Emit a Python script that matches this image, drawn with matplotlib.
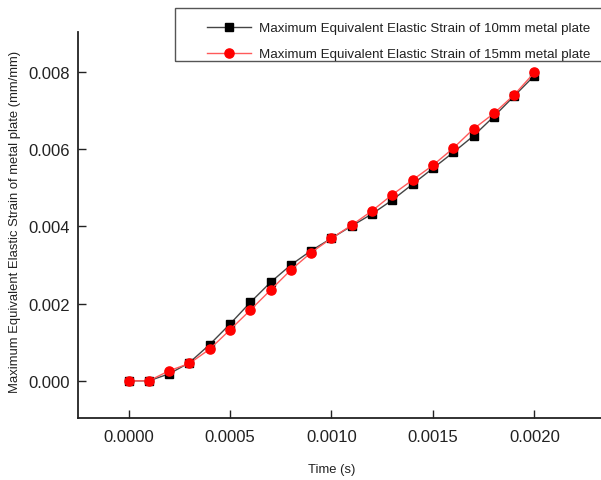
import matplotlib
matplotlib.use("Agg")
import matplotlib.pyplot as plt
from matplotlib.patches import Rectangle
from matplotlib.ticker import FormatStrFormatter

plt.rcParams['font.family'] = ['Liberation Sans', 'DejaVu Sans']

time_s = [0.0000, 0.0001, 0.0002, 0.0003, 0.0004, 0.0005, 0.0006, 0.0007,
          0.0008, 0.0009, 0.0010, 0.0011, 0.0012, 0.0013, 0.0014, 0.0015,
          0.0016, 0.0017, 0.0018, 0.0019, 0.0020]
strain_10mm = [0.0, 0.0, 0.00018, 0.00047, 0.00094, 0.00147, 0.00203, 0.00255,
               0.00300, 0.00337, 0.00369, 0.00401, 0.00432, 0.00468, 0.00509,
               0.00550, 0.00591, 0.00634, 0.00684, 0.00737, 0.00790]
strain_15mm = [0.0, 0.0, 0.00026, 0.00045, 0.00082, 0.00132, 0.00183, 0.00235,
               0.00287, 0.00332, 0.00369, 0.00403, 0.00440, 0.00482, 0.00520,
               0.00558, 0.00602, 0.00652, 0.00692, 0.00740, 0.00798]
label_10 = "Maximum Equivalent Elastic Strain of 10mm metal plate"
label_15 = "Maximum Equivalent Elastic Strain of 15mm metal plate"
xticks = [0.0000, 0.0005, 0.0010, 0.0015, 0.0020]
yticks = [0.000, 0.002, 0.004, 0.006, 0.008]

W, H = 601, 481
fig = plt.figure(figsize=(W / 100, H / 100), dpi=100)
ax = fig.add_axes([78 / W, 1 - 419.3 / H, 1 - 78 / W, (419.3 - 33.3) / H])

l1, = ax.plot(time_s, strain_10mm, color='#444444', lw=1.0, marker='s',
              ms=5.6, mfc='black', mec='black', label=label_10)
l2, = ax.plot(time_s, strain_15mm, color='#ff5a5a', lw=1.0, marker='o',
              ms=6.6, mfc='red', mec='red', label=label_15)

ax.set_xlim(-0.000249, 0.002328)
ax.set_ylim(-0.00097, 0.00902)
ax.set_xticks(xticks)
ax.set_yticks(yticks)
ax.xaxis.set_major_formatter(FormatStrFormatter('%.4f'))
ax.yaxis.set_major_formatter(FormatStrFormatter('%.3f'))
ax.tick_params(direction='in', length=6, width=1.0, labelsize=12, colors='#222222')
ax.tick_params(axis='x', pad=8)
ax.tick_params(axis='y', pad=6)
for s in ['top', 'right']:
    ax.spines[s].set_visible(False)
for s in ['left', 'bottom']:
    ax.spines[s].set_linewidth(1.3)
    ax.spines[s].set_color('#222222')

fig.text(332 / W, 1 - 470 / H, "Time (s)", ha='center',
         va='center', fontsize=9.4, color='#222222')
fig.text(15 / W, 1 - 222 / H, "Maximum Equivalent Elastic Strain of metal plate (mm/mm)",
         rotation=90, ha='center', va='center', fontsize=9.4, color='#222222')

# legend frame
fig.patches.append(Rectangle((175 / W, 1 - 62.3 / H), (W - 175) / W + 0.01,
                             53 / H, transform=fig.transFigure, fill=False,
                             lw=1.0, edgecolor='#555555', zorder=5))
leg = fig.legend(handles=[l1, l2], loc='upper left',
                 bbox_to_anchor=(207 / W, 1 - 23 / H), frameon=False,
                 fontsize=9.6, handlelength=3.3, handletextpad=0.6,
                 labelspacing=1.02, borderpad=0, borderaxespad=0)
for t in leg.get_texts():
    t.set_color('#222222')

fig.savefig("out.png", dpi=100)
